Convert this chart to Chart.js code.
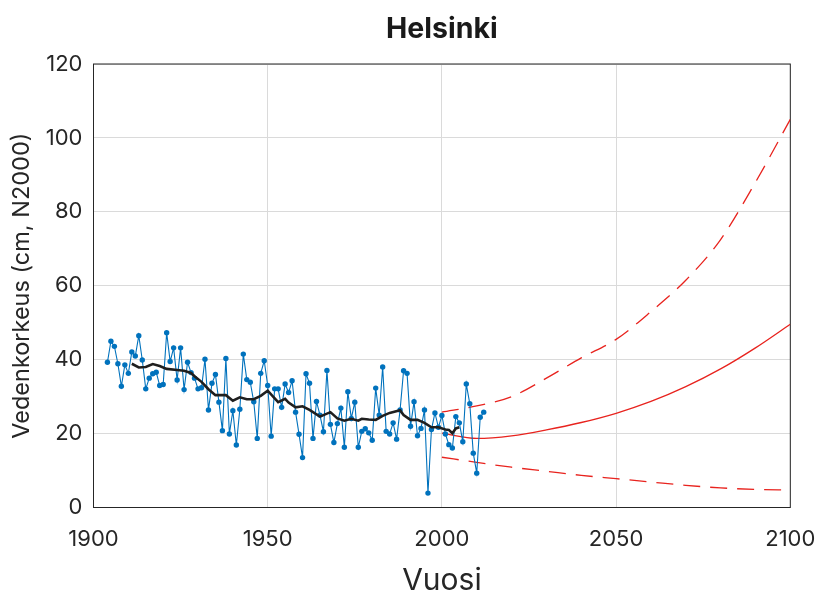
<!DOCTYPE html>
<html>
<head>
<meta charset="utf-8">
<script src="https://cdn.jsdelivr.net/npm/chart.js@4/dist/chart.umd.min.js"></script>
<style>
html, body { margin: 0; background: #fff; }
</style>
</head>
<body>
<canvas id="myChart" width="815" height="599"></canvas>
<script>
// annual mean sea level, Helsinki (cm, N2000), 1904-2012
const firstYear = 1904
const yearlyLevel = [
  39.3, 45.0, 43.6, 38.9, 32.8, 38.6, 36.3, 42.1, 41.0, 46.5,
  39.9, 32.1, 35.0, 36.2, 36.6, 33.0, 33.3, 47.3, 39.5, 43.2,
  34.5, 43.2, 31.9, 39.3, 36.5, 35.0, 32.1, 32.4, 40.1, 26.4,
  33.6, 36.0, 28.5, 20.8, 40.3, 19.9, 26.2, 16.9, 26.6, 41.5,
  34.6, 33.9, 28.6, 18.7, 36.3, 39.7, 33.0, 19.3, 32.1, 32.1,
  27.1, 33.4, 31.1, 34.3, 25.8, 19.8, 13.5, 36.2, 33.6, 18.7,
  28.7, 25.0, 20.5, 37.1, 22.5, 17.6, 22.7, 26.9, 16.3, 31.3,
  24.1, 28.5, 16.3, 20.6, 21.3, 20.2, 18.2, 32.3, 25.0, 38.0,
  20.6, 19.9, 22.9, 18.5, 26.4, 37.0, 36.3, 22.0, 28.6, 19.4,
  21.4, 26.4, 3.9, 21.1, 25.6, 21.7, 24.9, 19.9, 17.0, 16.1,
  24.6, 22.9, 17.8, 33.4, 28.1, 14.7, 9.3, 24.4, 25.8
]

// running mean (black line)
const meanYears = [1911, 1913, 1915, 1917, 1919, 1921, 1924, 1926, 1928, 1929,
  1931, 1933, 1935, 1938, 1940, 1942, 1944, 1946, 1948, 1950,
  1953, 1955, 1956, 1958, 1960, 1962, 1965, 1968, 1970, 1972,
  1974, 1976, 1977, 1979, 1981, 1983, 1985, 1988, 1989, 1991,
  1993, 1995, 1997, 1999, 2001, 2002, 2003, 2004, 2005]
const meanLevel = [38.9, 37.9, 38.0, 38.8, 38.3, 37.5, 37.2, 37.0, 36.4, 35.5,
  34.0, 32.0, 30.4, 30.4, 28.9, 29.8, 29.3, 29.3, 30.2, 31.6,
  28.5, 29.4, 28.4, 27.1, 27.4, 26.4, 24.6, 25.8, 24.1, 23.5,
  24.0, 23.5, 24.0, 23.8, 23.7, 24.8, 25.6, 26.3, 25.0, 23.7,
  23.7, 22.9, 21.7, 21.7, 21.1, 21.0, 20.1, 21.4, 21.7]

// scenario to 2100
const scenYears = [2000, 2010, 2020, 2030, 2040, 2050, 2060, 2070, 2080, 2090, 2100]
const scenMid  = [20.1, 18.7, 19.4, 21.0, 23.0, 25.5, 28.7, 32.7, 37.5, 43.2, 49.6]
const scenHigh = [25.8, 27.5, 30.0, 35.0, 40.5, 45.5, 53.0, 61.5, 72.5, 88.0, 105.0]
const scenLow  = [13.6, 12.2, 10.9, 9.8, 8.7, 7.8, 6.9, 6.0, 5.3, 4.9, 4.7]

const xTicks = [1900, 1950, 2000, 2050, 2100]
const yTicks = [0, 20, 40, 60, 80, 100, 120]

const pts = (xs, ys) => xs.map((x, i) => ({x: x, y: ys[i]}))
const yearlyPts = yearlyLevel.map((v, i) => ({x: firstYear + i, y: v}))

const FONT = 'Inter, "Liberation Sans", sans-serif'
const RED = '#e8231e'

const frame = {
  id: 'frame',
  beforeDatasetsDraw(chart) {
    const a = chart.chartArea, c = chart.ctx
    c.save()
    c.strokeStyle = '#262626'
    c.lineWidth = 1
    c.strokeRect(a.left, a.top, a.right - a.left, a.bottom - a.top)
    c.restore()
  }
}

const scenLine = (data, dashed) => ({
  data: data,
  borderColor: RED,
  borderWidth: 1.3,
  borderDash: dashed ? [17, 10] : [],
  pointRadius: 0,
  cubicInterpolationMode: 'monotone',
  fill: false
})

new Chart(document.getElementById('myChart').getContext('2d'), {
  type: 'line',
  data: {
    datasets: [
      { data: pts(meanYears, meanLevel), borderColor: '#1f1f1f', borderWidth: 2.6,
        pointRadius: 0, tension: 0 },
      { data: yearlyPts, borderColor: '#0072bd', backgroundColor: '#0072bd',
        borderWidth: 1.1, pointRadius: 2.7, pointBorderWidth: 0, tension: 0 },
      scenLine(pts(scenYears, scenMid), false),
      scenLine(pts(scenYears, scenHigh), true),
      scenLine(pts(scenYears, scenLow), true)
    ]
  },
  options: {
    responsive: false,
    animation: false,
    layout: { padding: { left: 0, right: 24.7, top: 0, bottom: 0 } },
    plugins: {
      legend: { display: false },
      tooltip: { enabled: false },
      title: {
        display: true, text: 'Helsinki', color: '#1a1a1a', fullSize: false,
        font: { family: FONT, size: 28.5, weight: 'bold' },
        padding: { top: 12, bottom: 17.8 }
      }
    },
    scales: {
      x: {
        type: 'linear', min: 1900, max: 2100,
        afterBuildTicks: s => { s.ticks = xTicks.map(v => ({value: v})) },
        afterFit: s => { s.height = 91.5; s.paddingLeft = 0; s.paddingRight = 0 },
        grid: { color: '#dadada', drawTicks: false },
        border: { display: false },
        ticks: { color: '#262626', padding: 19, font: { family: FONT, size: 22 },
          callback: v => String(v) },
        title: { display: true, text: 'Vuosi', color: '#262626',
          font: { family: FONT, size: 30 }, padding: { top: 0, bottom: 0 } }
      },
      y: {
        min: 0, max: 120,
        afterBuildTicks: s => { s.ticks = yTicks.map(v => ({value: v})) },
        afterFit: s => { s.width = 93.5; s.paddingTop = 0; s.paddingBottom = 0 },
        grid: { color: '#dadada', drawTicks: false },
        border: { display: false },
        ticks: { color: '#262626', padding: 11, font: { family: FONT, size: 22 } },
        title: { display: true, text: 'Vedenkorkeus (cm, N2000)', color: '#262626',
          font: { family: FONT, size: 23.5 }, padding: { top: 8, bottom: 0 } }
      }
    }
  },
  plugins: [frame]
})
</script>
</body>
</html>
